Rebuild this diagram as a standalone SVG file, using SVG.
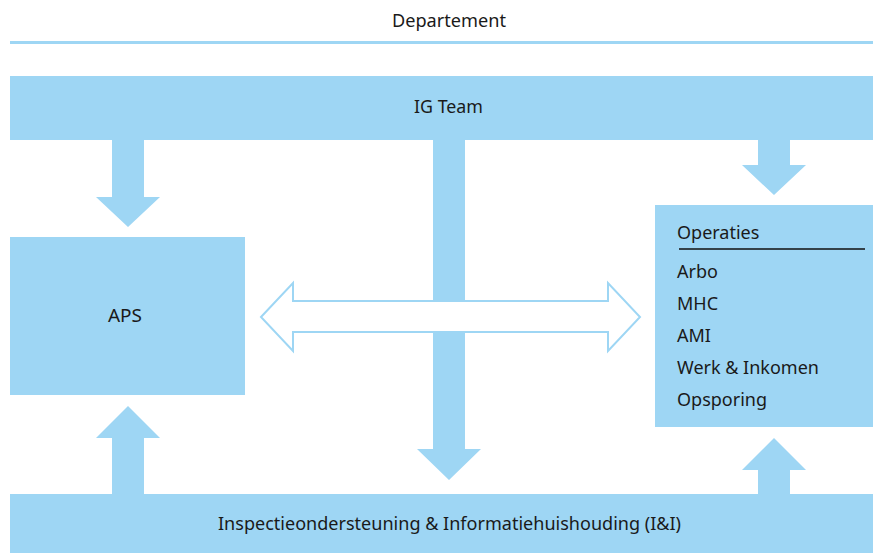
<svg xmlns="http://www.w3.org/2000/svg" width="873" height="553" viewBox="0 0 873 553">
<style>
.f{fill:#9ed6f4}
.t{font-family:"Noto Sans","Open Sans",sans-serif;fill:#1a1a1a}
.c{text-anchor:middle;font-size:18px}
.l{font-size:18px}
</style>
<rect width="873" height="553" fill="#fff"/>
<g id="departement">
<text class="t c" x="449" y="27" textLength="114" lengthAdjust="spacingAndGlyphs">Departement</text>
<rect class="f" x="10" y="41" width="863" height="3"/>
</g>
<g id="ig-team">
<rect class="f" x="10" y="76" width="863" height="64"/>
<text class="t c" x="448.5" y="113" textLength="69" lengthAdjust="spacingAndGlyphs">IG Team</text>
</g>
<g id="aps">
<rect class="f" x="10" y="237" width="235" height="158"/>
<text class="t c" x="125" y="322" textLength="34" lengthAdjust="spacingAndGlyphs">APS</text>
</g>
<g id="operaties">
<rect class="f" x="655" y="205" width="218" height="222"/>
<text class="t l" x="677" y="239">Operaties</text>
<line x1="679" y1="249" x2="865" y2="249" stroke="#111" stroke-width="1.5"/>
<text class="t l" x="677" y="278">Arbo</text>
<text class="t l" x="677" y="310">MHC</text>
<text class="t l" x="677" y="342">AMI</text>
<text class="t l" x="677" y="374">Werk &amp; Inkomen</text>
<text class="t l" x="677" y="406">Opsporing</text>
</g>
<g id="ii">
<rect class="f" x="10" y="494" width="863" height="59"/>
<text class="t c" x="449.5" y="530" textLength="463" lengthAdjust="spacingAndGlyphs">Inspectieondersteuning &amp; Informatiehuishouding (I&amp;I)</text>
</g>
<g id="connectors">
<polygon class="f" points="112,140 144,140 144,197 160,197 128,227 96,197 112,197"/>
<polygon class="f" points="758,140 790,140 790,165 806,165 774,195 742,165 758,165"/>
<polygon class="f" points="433,140 465,140 465,449 481,449 449,480 417,449 433,449"/>
<polygon class="f" points="112,494 144,494 144,438 160,438 128,406 96,438 112,438"/>
<polygon class="f" points="758,494 790,494 790,470 806,470 774,438 742,470 758,470"/>
<polygon points="261,317 293,283 293,301 608,301 608,283 640,317 608,351 608,332 293,332 293,351" fill="#fff" stroke="#9ed6f4" stroke-width="2"/>
</g>
</svg>
